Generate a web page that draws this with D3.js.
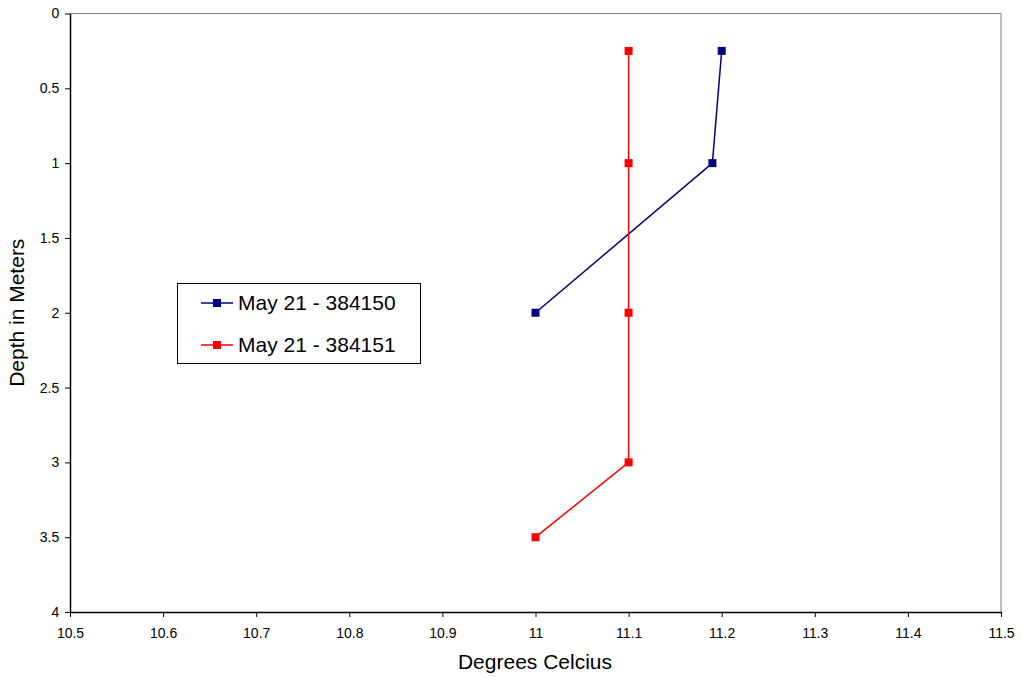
<!DOCTYPE html>
<html><head><meta charset="utf-8">
<script src="https://cdn.jsdelivr.net/npm/d3@7"></script>
<style>body{margin:0;background:#fff}svg{font-family:Arial,"Liberation Sans",sans-serif}</style>
</head><body>
<svg id="c" width="1021" height="677"></svg>
<script>
const seriesNames = ["May 21 - 384150", "May 21 - 384151"];
const seriesColors = ["#000080", "#FF0000"];
const temps1 = [11.2, 11.19, 11.0];
const depths1 = [0.25, 1, 2];
const temps2 = [11.1, 11.1, 11.1, 11.1, 11.0];
const depths2 = [0.25, 1, 2, 3, 3.5];
const xTicks = [10.5,10.6,10.7,10.8,10.9,11,11.1,11.2,11.3,11.4,11.5];
const yTicks = [0,0.5,1,1.5,2,2.5,3,3.5,4];

const svg = d3.select("#c");
const L=70, R=1001, T=13.5, B=612;
const x = d3.scaleLinear().domain([10.5,11.5]).range([L,R]);
const y = d3.scaleLinear().domain([0,4]).range([T,B]);

svg.append("path").attr("d",`M${L},${T}H${R}V${B}`).attr("fill","none").attr("stroke","#808080").attr("stroke-width",1);

const xa = svg.append("g").attr("transform",`translate(0,${B})`)
  .call(d3.axisBottom(x).tickValues(xTicks).tickFormat(d=>String(+d.toFixed(1))).tickSize(5).tickSizeOuter(0));
const ya = svg.append("g").attr("transform",`translate(${L},0)`)
  .call(d3.axisLeft(y).tickValues(yTicks).tickFormat(d=>String(d)).tickSize(5).tickSizeOuter(0));
[xa,ya].forEach(a=>{
  a.select(".domain").attr("stroke","#000").attr("stroke-width",1.5);
  a.selectAll("line").attr("stroke","#000");
  a.selectAll("text").attr("font-size",14).attr("fill","#000").attr("font-family","Arial, 'Liberation Sans', sans-serif");
});
xa.selectAll("text").attr("dy","1.3em");
ya.selectAll("text").attr("dx","-0.2em");

svg.append("text").attr("x",535).attr("y",669).attr("text-anchor","middle").attr("font-size",21).text("Degrees Celcius");
svg.append("text").attr("transform",`translate(24,${(T+B)/2}) rotate(-90)`).attr("text-anchor","middle").attr("font-size",21).text("Depth in Meters");

const series = [
  {t:temps1,d:depths1,c:seriesColors[0]},
  {t:temps2,d:depths2,c:seriesColors[1]}
];
const line = d3.line().x(p=>x(p[0])).y(p=>y(p[1]));
series.forEach(s=>{
  const pts = s.t.map((v,i)=>[v,s.d[i]]);
  svg.append("path").datum(pts).attr("d",line).attr("fill","none").attr("stroke",s.c).attr("stroke-width",1.5);
  svg.selectAll(null).data(pts).enter().append("rect")
    .attr("x",p=>x(p[0])-4).attr("y",p=>y(p[1])-4).attr("width",8).attr("height",8).attr("fill",s.c);
});

const lg = svg.append("g");
lg.append("rect").attr("x",177.5).attr("y",283.5).attr("width",243).attr("height",80).attr("fill","#fff").attr("stroke","#000").attr("stroke-width",1);
seriesNames.forEach((n,i)=>{
  const yy = 303+ i*42;
  lg.append("line").attr("x1",201).attr("x2",233).attr("y1",yy).attr("y2",yy).attr("stroke",seriesColors[i]).attr("stroke-width",1.5);
  lg.append("rect").attr("x",213).attr("y",yy-4).attr("width",8).attr("height",8).attr("fill",seriesColors[i]);
  lg.append("text").attr("x",238).attr("y",yy+7).attr("font-size",21).text(n);
});
</script>
</body></html>
